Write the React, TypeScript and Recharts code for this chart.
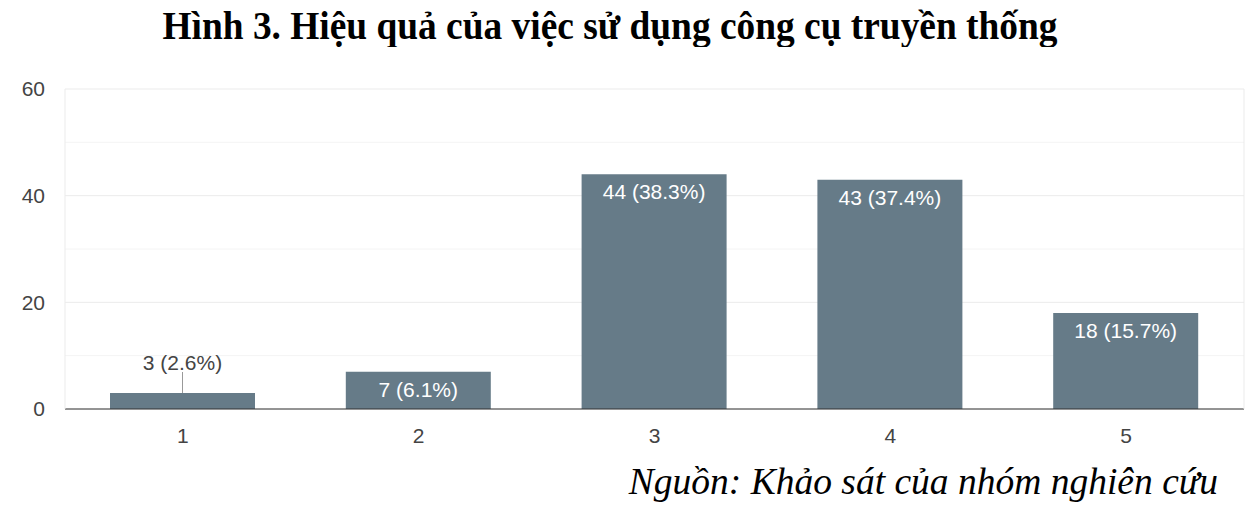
import { BarChart, Bar, XAxis, YAxis, CartesianGrid, LabelList } from "recharts";

const categories = ["1", "2", "3", "4", "5"];
const counts = [3, 7, 44, 43, 18];
const percents = ["2.6%", "6.1%", "38.3%", "37.4%", "15.7%"];
const majorTicks = [0, 20, 40, 60];
const minorTicks = [10, 30, 50];

const data = categories.map((c, i) => ({
  name: c,
  value: counts[i],
  label: `${counts[i]} (${percents[i]})`,
}));

const FONT = "'Liberation Sans', Arial, sans-serif";
const BAR = "#667b88";

function BarLabel(props: any) {
  const { x, y, width, height, value } = props;
  const cx = x + width / 2;
  if (height > 30) {
    return (
      <text x={cx} y={y + 25} textAnchor="middle" fill="#ffffff" fontSize={21} fontFamily={FONT}>
        {value}
      </text>
    );
  }
  return (
    <g>
      <line x1={cx} x2={cx} y1={y} y2={y - 21} stroke="#999" strokeWidth={1} />
      <text x={cx} y={y - 23} textAnchor="middle" fill="#444" fontSize={21} fontFamily={FONT}>
        {value}
      </text>
    </g>
  );
}

export default function App() {
  return (
    <div style={{ position: "relative", width: 1258, height: 510, margin: -8, background: "#fff", overflow: "hidden" }}>
      <div
        style={{
          position: "absolute",
          top: 1,
          left: 0,
          width: 1220,
          textAlign: "center",
          fontFamily: "'Liberation Serif', 'Times New Roman', serif",
          fontWeight: "bold",
          fontSize: 37.4,
          color: "#000",
          lineHeight: "50px",
          transform: "scaleY(1.05)",
        }}
      >
        Hình 3. Hiệu quả của việc sử dụng công cụ truyền thống
      </div>
      <BarChart
        width={1258}
        height={510}
        data={data}
        margin={{ top: 89, right: 13, bottom: 71, left: 20 }}
      >
        <CartesianGrid vertical={false} stroke="#f4f4f4" horizontalValues={minorTicks} />
        <CartesianGrid vertical={false} stroke="#ebebeb" />
        <XAxis
          dataKey="name"
          axisLine={{ stroke: "#333" }}
          tickLine={false}
          tickMargin={13}
          tick={{ fill: "#444", fontSize: 21, fontFamily: FONT }}
        />
        <YAxis
          domain={[0, 60]}
          ticks={majorTicks}
          width={45}
          axisLine={{ stroke: "#ebebeb" }}
          tickLine={false}
          tickMargin={14}
          tick={{ fill: "#444", fontSize: 21, fontFamily: FONT }}
        />
        <YAxis
          yAxisId="r"
          orientation="right"
          domain={[0, 60]}
          width={1}
          axisLine={{ stroke: "#ebebeb" }}
          tickLine={false}
          tick={false}
        />
        <Bar dataKey="value" fill={BAR} barSize={145} isAnimationActive={false}>
          <LabelList dataKey="label" content={BarLabel} />
        </Bar>
      </BarChart>
      <div
        style={{
          position: "absolute",
          top: 459,
          right: 40,
          fontFamily: "'Liberation Serif', 'Times New Roman', serif",
          fontStyle: "italic",
          fontSize: 37.5,
          color: "#000",
          lineHeight: "46px",
        }}
      >
        Nguồn: Khảo sát của nhóm nghiên cứu
      </div>
    </div>
  );
}
